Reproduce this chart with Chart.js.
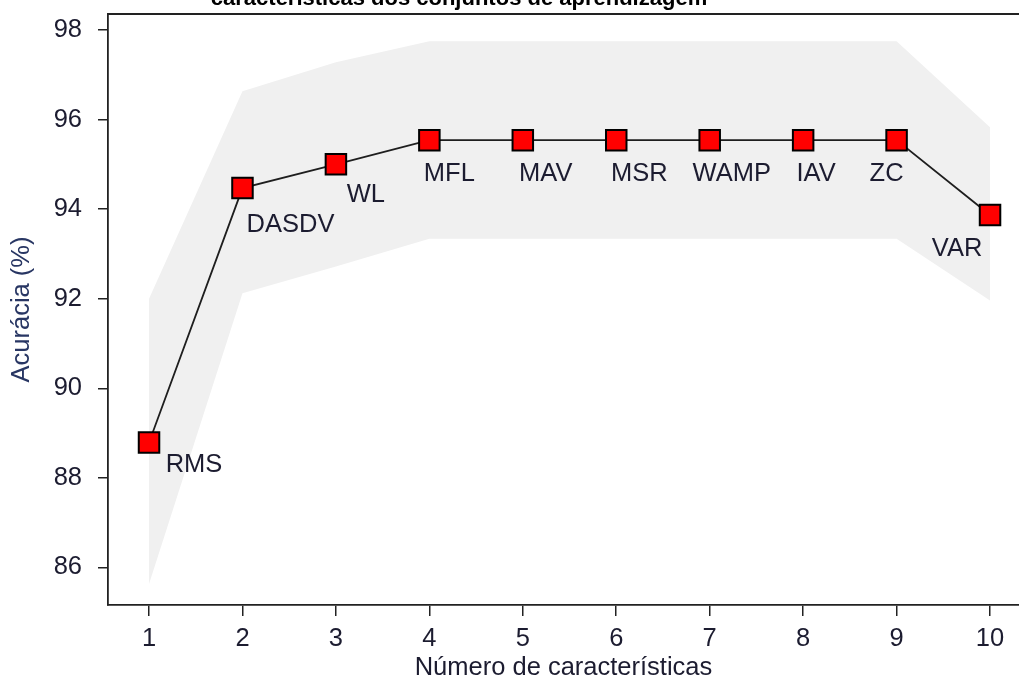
<!DOCTYPE html>
<html>
<head>
<meta charset="utf-8">
<script src="https://cdn.jsdelivr.net/npm/chart.js@4.4.0/dist/chart.umd.min.js"></script>
<style>
  html, body { margin: 0; padding: 0; background: #ffffff; overflow: hidden; }
  #wrap { width: 1019px; height: 686px; position: relative; }
</style>
</head>
<body>
<div id="wrap"><canvas id="chart"></canvas></div>
<script>
// Number of features in each learning set and the feature added at that step
const featureCount = [1, 2, 3, 4, 5, 6, 7, 8, 9, 10];
const featureNames = ['RMS', 'DASDV', 'WL', 'MFL', 'MAV', 'MSR', 'WAMP', 'IAV', 'ZC', 'VAR'];

// Mean accuracy (%) and the spread band around it
const accuracy  = [88.79, 94.47, 95.00, 95.54, 95.54, 95.54, 95.54, 95.54, 95.54, 93.87];
const bandUpper = [92.00, 96.63, 97.28, 97.75, 97.75, 97.75, 97.75, 97.75, 97.75, 95.83];
const bandLower = [85.63, 92.12, 92.72, 93.34, 93.34, 93.34, 93.34, 93.34, 93.34, 91.96];

const yTicks = [86, 88, 90, 92, 94, 96, 98];

const titleText = 'características dos conjuntos de aprendizagem';
const xTitle = 'Número de características';
const yTitle = 'Acurácia (%)';

const FONT = '"Liberation Sans", Arial, Helvetica, sans-serif';
const INK = '#1c1c30';
const AXIS = '#222222';

const toPoints = (ys) => featureCount.map((x, i) => ({ x: x, y: ys[i] }));

// Label placement relative to each marker, in pixels (centre of the text)
const labelShift = [
  [45, 21], [48, 35], [30, 29], [20, 32], [23, 32],
  [23, 32], [22, 32], [13, 32], [-10, 32], [-33, 32]
];

const pointLabels = {
  id: 'pointLabels',
  afterDatasetsDraw(chart) {
    const meta = chart.getDatasetMeta(0);
    const ctx = chart.ctx;
    ctx.save();
    ctx.font = '25.5px ' + FONT;
    ctx.fillStyle = INK;
    ctx.textAlign = 'center';
    ctx.textBaseline = 'alphabetic';
    meta.data.forEach((pt, i) => {
      const [dx, dy] = labelShift[i];
      ctx.fillText(featureNames[i], pt.x + dx, pt.y + dy + 9);
    });
    ctx.restore();
  }
};

const frameAndTitle = {
  id: 'frameAndTitle',
  afterDraw(chart) {
    const ctx = chart.ctx;
    const area = chart.chartArea;
    ctx.save();
    // top edge of the plotting box
    ctx.strokeStyle = AXIS;
    ctx.lineWidth = 1.8;
    ctx.beginPath();
    ctx.moveTo(area.left, area.top);
    ctx.lineTo(chart.width, area.top);
    ctx.stroke();
    // main title
    ctx.font = 'bold 22px ' + FONT;
    ctx.fillStyle = '#000000';
    ctx.textAlign = 'center';
    ctx.textBaseline = 'alphabetic';
    ctx.fillText(titleText, 459, 4.5);
    ctx.restore();
  }
};

// keep tick labels from pushing the plotting box inwards
const noOverflow = (s) => {
  s.paddingLeft = 0; s.paddingRight = 0; s.paddingTop = 0; s.paddingBottom = 0;
};

new Chart(document.getElementById('chart'), {
  type: 'line',
  data: {
    datasets: [
      {
        label: 'Acurácia',
        data: toPoints(accuracy),
        borderColor: '#1e1e1e',
        borderWidth: 1.8,
        pointStyle: 'rect',
        pointRadius: 14.5,
        pointBackgroundColor: '#ff0000',
        pointBorderColor: '#000000',
        pointBorderWidth: 2,
        fill: false,
        tension: 0
      },
      {
        label: 'upper',
        data: toPoints(bandUpper),
        borderWidth: 0,
        pointRadius: 0,
        backgroundColor: '#f0f0f0',
        fill: '+1',
        tension: 0
      },
      {
        label: 'lower',
        data: toPoints(bandLower),
        borderWidth: 0,
        pointRadius: 0,
        fill: false,
        tension: 0
      }
    ]
  },
  options: {
    responsive: true,
    maintainAspectRatio: false,
    devicePixelRatio: 1,
    animation: false,
    layout: { autoPadding: false, padding: { top: 14, left: 0, right: 0, bottom: 0 } },
    plugins: {
      legend: { display: false },
      tooltip: { enabled: false }
    },
    scales: {
      x: {
        type: 'linear',
        min: 0.561,
        max: 10.31,
        afterBuildTicks: (s) => { s.ticks = featureCount.map(v => ({ value: v })); },
        afterFit: (s) => { s.height = 81; noOverflow(s); },
        grid: { display: true, drawOnChartArea: false, drawTicks: true, tickLength: 11, color: AXIS, lineWidth: 1.5 },
        border: { display: true, color: AXIS, width: 1.8 },
        ticks: { font: { family: FONT, size: 25.5 }, color: INK, padding: 8, maxRotation: 0, autoSkip: false },
        title: { display: true, text: xTitle, font: { family: FONT, size: 25.5 }, color: INK, padding: { top: 3, bottom: 3 } }
      },
      y: {
        type: 'linear',
        min: 85.16,
        max: 98.357,
        afterBuildTicks: (s) => { s.ticks = yTicks.map(v => ({ value: v })); },
        afterFit: (s) => { s.width = 108; noOverflow(s); },
        grid: { display: true, drawOnChartArea: false, drawTicks: true, tickLength: 10, color: AXIS, lineWidth: 1.5 },
        border: { display: true, color: AXIS, width: 1.8 },
        ticks: { font: { family: FONT, size: 25.5 }, color: INK, padding: 16 },
        title: { display: true, text: yTitle, font: { family: FONT, size: 25.5 }, color: '#283663', padding: { top: 7, bottom: 7 } }
      }
    }
  },
  plugins: [pointLabels, frameAndTitle]
});
</script>
</body>
</html>
